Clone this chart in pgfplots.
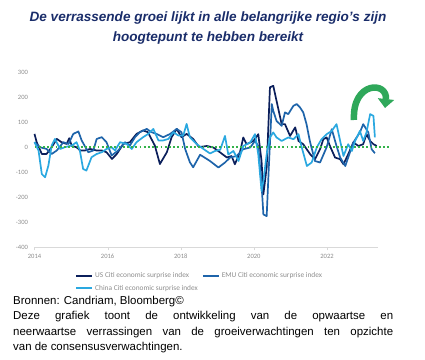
\documentclass[border=0pt]{standalone}
\usepackage{pgfplots}
\pgfplotsset{compat=1.18}
\usepackage{fontspec}
\setmainfont{Liberation Sans}
\newfontfamily\calibri{Carlito}
\usetikzlibrary{arrows.meta}
\definecolor{usc}{HTML}{0B1F5B}
\definecolor{emuc}{HTML}{1E64AA}
\definecolor{chc}{HTML}{2AA8E0}
\definecolor{zeroc}{HTML}{33B24A}
\definecolor{titlec}{HTML}{1A2D6A}
\definecolor{arrowc}{HTML}{2FA85A}
\begin{document}
\begin{tikzpicture}[x=1bp,y=1bp]
\useasboundingbox (0,0) rectangle (425,360);
\node[align=center, text=titlec, font=\fontsize{13.6}{21}\selectfont\bfseries\itshape, inner sep=0] at (208,332)
 {De verrassende groei lijkt in alle belangrijke regio's zijn\\hoogtepunt te hebben bereikt};
\begin{axis}[
  at={(34.5bp,112.5bp)}, anchor=south west,
  scale only axis, width=343.7bp, height=175.5bp,
  xmin=2014, xmax=2023.4, ymin=-400, ymax=300,
  clip=false,
  axis x line*=bottom, axis y line*=left,
  x axis line style={draw=black!15, -},
  y axis line style={draw=none, -},
  xtick={2014,2016,2018,2020,2022},
  ytick={-400,-300,-200,-100,0,100,200,300},
  tick align=outside, major tick length=3bp,
  xtick style={draw=black!15},
  ytick style={draw=none},
  /pgf/number format/assume math mode=true,
  /pgf/number format/1000 sep={},
  ticklabel style={font=\calibri\fontsize{6.6}{7}\selectfont, text=black!45},
  legend style={at={(0.118,-0.13)}, anchor=north west, draw=none, fill=none, inner sep=0pt,
    font=\calibri\fontsize{7.4}{8}\selectfont, text=black!45,
    row sep=2bp,
    /tikz/every even column/.append style={column sep=2bp}},
  legend columns=2, legend cell align=left,
  legend image code/.code={\draw[#1, line width=2bp] (0,0) -- (16bp,0);},
  every axis plot/.append style={line width=1.7bp, line join=round},
]
\addplot[usc, mark=none] coordinates {
(2014.00,53)(2014.06,20)(2014.20,-27)(2014.33,-27)(2014.47,0)(2014.61,33)(2014.74,20)(2014.88,13)(2014.95,36)(2015.02,5)
(2015.15,0)(2015.25,-13)(2015.38,-13)(2015.52,-7)(2015.70,-13)(2015.84,-13)(2015.97,-20)(2016.12,-47)(2016.25,-27)(2016.43,13)
(2016.61,20)(2016.79,53)(2016.97,67)(2017.10,60)(2017.29,7)(2017.43,-67)(2017.62,-20)(2017.75,40)(2017.89,73)(2018.02,40)
(2018.16,53)(2018.34,33)(2018.50,0)(2018.71,5)(2018.89,-1)(2019.08,-21)(2019.26,-41)(2019.39,-35)(2019.48,-68)(2019.62,-20)
(2019.71,39)(2019.80,12)(2019.99,25)(2020.12,52)(2020.21,-55)(2020.26,-188)(2020.35,-80)(2020.44,239)(2020.53,245)(2020.62,185)
(2020.76,92)(2020.85,92)(2020.99,45)(2021.13,79)(2021.22,25)(2021.35,12)(2021.54,-28)(2021.67,-48)(2021.81,-8)(2021.90,32)
(2021.99,39)(2022.08,5)(2022.22,-41)(2022.36,-48)(2022.45,-68)(2022.58,-28)(2022.72,19)(2022.86,5)(2022.99,12)(2023.08,52)
(2023.18,25)(2023.27,12)(2023.36,5)
};
\addlegendentry{US Citi economic surprise index}
\addplot[emuc, mark=none] coordinates {
(2014.00,20)(2014.15,0)(2014.33,-7)(2014.47,-27)(2014.61,-13)(2014.79,20)(2014.93,13)(2015.06,53)(2015.20,63)(2015.29,27)
(2015.47,-20)(2015.61,-13)(2015.70,33)(2015.84,40)(2015.97,20)(2016.11,-33)(2016.29,-13)(2016.47,20)(2016.61,7)(2016.75,40)
(2016.88,60)(2017.07,73)(2017.20,60)(2017.34,53)(2017.52,40)(2017.71,53)(2017.89,73)(2018.02,60)(2018.12,-7)(2018.25,-60)
(2018.34,-80)(2018.53,-30)(2018.80,-55)(2019.03,-81)(2019.21,-61)(2019.35,-41)(2019.53,-35)(2019.71,-8)(2019.90,-1)(2020.03,25)
(2020.12,5)(2020.21,-148)(2020.26,-268)(2020.35,-275)(2020.40,-108)(2020.49,172)(2020.53,145)(2020.62,105)(2020.76,85)(2020.85,139)
(2020.94,132)(2021.08,165)(2021.17,172)(2021.26,159)(2021.35,139)(2021.44,92)(2021.53,25)(2021.67,-55)(2021.81,-61)(2021.99,0)
(2022.13,72)(2022.26,5)(2022.36,-41)(2022.50,-75)(2022.72,19)(2022.90,59)(2022.99,92)(2023.13,59)(2023.22,-8)(2023.31,-24)
};
\addlegendentry{EMU Citi economic surprise index}
\addplot[chc, mark=none] coordinates {
(2014.00,20)(2014.11,-13)(2014.20,-107)(2014.29,-120)(2014.38,-73)(2014.47,7)(2014.56,33)(2014.70,-7)(2014.83,0)(2015.02,7)
(2015.15,20)(2015.24,-13)(2015.33,-87)(2015.42,-93)(2015.56,-40)(2015.70,-27)(2015.84,-20)(2015.97,-7)(2016.11,0)(2016.20,-13)
(2016.34,20)(2016.52,13)(2016.66,-7)(2016.79,20)(2016.97,40)(2017.11,53)(2017.25,73)(2017.39,27)(2017.52,27)(2017.66,33)
(2017.80,60)(2017.93,47)(2018.07,47)(2018.16,93)(2018.25,40)(2018.43,13)(2018.62,-7)(2018.80,-25)(2018.94,-15)(2019.08,-10)
(2019.21,45)(2019.30,-29)(2019.44,-15)(2019.58,-55)(2019.71,5)(2019.90,19)(2020.03,52)(2020.12,-28)(2020.21,-175)(2020.26,-135)
(2020.35,-28)(2020.44,39)(2020.53,59)(2020.62,39)(2020.76,25)(2020.94,39)(2021.08,32)(2021.22,52)(2021.31,-1)(2021.45,-75)
(2021.58,-61)(2021.72,-1)(2021.85,32)(2021.99,52)(2022.13,65)(2022.26,92)(2022.36,25)(2022.45,-35)(2022.58,12)(2022.68,-15)
(2022.77,25)(2022.90,65)(2022.99,25)(2023.08,59)(2023.18,132)(2023.27,125)(2023.31,39)
};
\addlegendentry{China Citi economic surprise index}
\draw[zeroc, line width=1.8bp, dash pattern=on 1.8bp off 2.4bp] (axis cs:2014,0) -- (axis cs:2023.72,0);
\end{axis}
\draw[arrowc, line width=6.5bp, -{Triangle[width=16bp,length=9bp]}] (354,240) .. controls (352,279) and (388,279) .. (385,252);
\node[anchor=north west, inner sep=0, text width=380bp, align=justify, font=\fontsize{11.5}{15.5}\selectfont] at (13,64)
 {Bronnen: Candriam, Bloomberg\textcopyright\\
 Deze grafiek toont de ontwikkeling van de opwaartse en\linebreak
 neerwaartse verrassingen van de groeiverwachtingen ten opzichte\linebreak
 van de consensusverwachtingen.};
\end{tikzpicture}
\end{document}
